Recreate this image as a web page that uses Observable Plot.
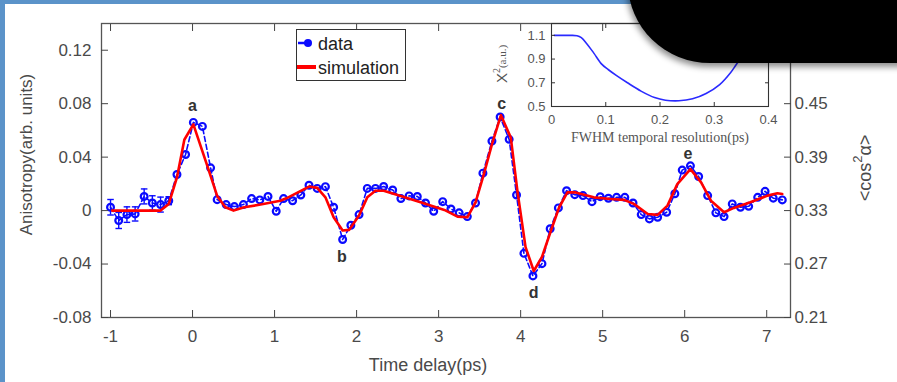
<!DOCTYPE html>
<html><head><meta charset="utf-8">
<script src="https://cdn.jsdelivr.net/npm/d3@7"></script>
<script src="https://cdn.jsdelivr.net/npm/@observablehq/plot@0.6"></script>
<style>
html,body{margin:0;padding:0;background:#fff;}
#wrap{position:relative;width:897px;height:382px;overflow:hidden;background:#fff;}
#wrap svg{position:absolute;overflow:visible;}
.bl{position:absolute;left:0;top:0;width:5px;height:382px;background:#5b93c9;}
.bt{position:absolute;left:0;top:0;width:897px;height:4px;background:#5b93c9;}
.blk{position:absolute;left:628px;top:-20px;width:300px;height:83px;background:#000;border-bottom-left-radius:82px 80px;box-shadow:0 2px 6px 2px rgba(0,0,0,0.45);}
</style></head><body><div id="wrap"><div class="bl"></div><div class="bt"></div></div>
<script>
// main data (time delay in ps, anisotropy)
const times = [-1.00,-0.90,-0.80,-0.70,-0.59,-0.49,-0.39,-0.29,-0.19,-0.085,
  0.01,0.12,0.22,0.30,0.41,0.51,0.62,0.72,0.82,0.92,
  1.02,1.11,1.22,1.32,1.42,1.52,1.62,1.72,1.83,1.93,
  2.03,2.13,2.23,2.33,2.44,2.54,2.64,2.74,2.84,2.94,
  3.05,3.15,3.25,3.35,3.45,3.54,3.65,3.75,3.86,3.95,
  4.04,4.15,4.26,4.36,4.46,4.56,4.66,4.76,4.87,4.97,
  5.07,5.17,5.27,5.37,5.47,5.57,5.67,5.78,5.88,5.97,
  6.07,6.17,6.28,6.38,6.48,6.58,6.68,6.78,6.89,6.98,
  7.08,7.19];
const anisotropy = [0.0025,-0.0074,-0.003,-0.0025,0.0106,0.0057,0.0045,0.0074,0.027,0.042,
  0.066,0.063,0.032,0.0082,0.0045,0.003,0.0045,0.009,0.008,0.0106,
  -0.0005,0.009,0.0074,0.0117,0.019,0.0166,0.0179,0.0025,-0.0216,-0.011,
  -0.003,0.0166,0.0166,0.018,0.0154,0.009,0.011,0.0106,0.0057,-0.0005,
  0.0067,0.0012,-0.0017,-0.0045,0.0057,0.028,0.052,0.070,0.0533,0.0117,
  -0.032,-0.0489,-0.0397,-0.0136,0.002,0.0149,0.0119,0.0112,0.0067,0.0104,
  0.0092,0.0099,0.0099,0.0057,-0.003,-0.0062,-0.005,-0.0012,0.0126,0.0303,
  0.0335,0.0255,0.0112,-0.0017,-0.0045,0.005,0.0025,0.0032,0.0099,0.0144,
  0.0093,0.008];
// error bars for the first points
const errors = [0.0058,0.006,0.0058,0.0053,0.0056,0.0054,0.0056,0.003];
// simulation
const simTimes = [-0.98,-0.39,-0.29,-0.19,-0.1,0.01,0.18,0.30,0.40,0.50,
  0.63,0.83,1.07,1.15,1.42,1.52,1.62,1.72,1.83,1.91,
  2.03,2.13,2.23,2.33,2.46,2.78,3.07,3.23,3.35,3.45,
  3.55,3.65,3.76,3.88,3.96,4.06,4.16,4.26,4.37,4.47,
  4.57,4.67,4.89,5.10,5.26,5.38,5.55,5.67,5.79,5.91,
  6.07,6.2,6.32,6.48,6.6,6.8,7.01,7.13,7.19];
const simValues = [0,0,0.005,0.0248,0.053,0.0645,0.0335,0.011,0.0025,0,
  0.0025,0.0045,0.0074,0.0094,0.018,0.017,0.0099,-0.005,-0.0149,-0.0144,
  -0.0037,0.0099,0.0149,0.0149,0.0124,0.0062,0.0005,-0.0045,-0.005,0.0062,
  0.027,0.0496,0.0714,0.0546,0.0149,-0.0273,-0.0452,-0.0347,-0.0149,0.0025,
  0.0136,0.0136,0.0099,0.0087,0.008,0.005,-0.0025,-0.0032,0.0037,0.0198,
  0.031,0.0211,0.0074,-0.0012,0.002,0.0062,0.0112,0.013,0.0124];
// peak labels
const peakLabels = ["a","b","c","d","e"];
const peakX = [0, 1.82, 3.77, 4.16, 6.04];
const peakY = [0.078, -0.035, 0.080, -0.0618, 0.0424];
// ticks
const xTicks = [-1,0,1,2,3,4,5,6,7];
const yTicks = [-0.08,-0.04,0,0.04,0.08,0.12];
// inset: chi^2 vs FWHM temporal resolution
const fwhm = [0.005,0.02,0.035,0.047,0.055,0.065,0.078,0.093,0.105,0.12,0.14,0.165,0.19,0.21,0.235,0.26,0.285,0.31,0.33,0.34,0.36,0.38,0.395];
const chi2 = [1.1,1.1,1.1,1.097,1.08,1.03,0.95,0.855,0.81,0.76,0.70,0.63,0.575,0.553,0.548,0.565,0.61,0.685,0.785,0.85,0.98,1.12,1.2];
const insetXTicks = [0,0.1,0.2,0.3,0.4];
const insetYTicks = [0.5,0.7,0.9,1.1];

const BLUE = "#0a0aff", RED = "#ff0000", INK = "#4a4a4a";
const data = times.map((t,i)=>({t, a: anisotropy[i], e: errors[i] ?? 0}));
const errs = data.filter(d=>d.e>0);
const sim = simTimes.map((t,i)=>({t, v: simValues[i]}));
const peaks = peakLabels.map((s,i)=>({s, x: peakX[i], y: peakY[i]}));
const cap = 0.04;
const fmtY = d => d===0 ? "0" : d.toFixed(2);

const main = Plot.plot({
  width: 897, height: 382,
  marginLeft: 101, marginRight: 107, marginTop: 23, marginBottom: 65,
  x: {domain: [-1.11, 7.29]},
  y: {domain: [-0.08, 0.14]},
  style: {fontFamily: "'Liberation Sans', Arial, sans-serif", fontSize: "17px", color: INK, background: "transparent"},
  marks: [
    Plot.ruleX(errs, {x: "t", y1: d=>d.a-d.e, y2: d=>d.a+d.e, stroke: BLUE, strokeWidth: 1.4}),
    Plot.link(errs, {x1: d=>d.t-cap, x2: d=>d.t+cap, y1: d=>d.a+d.e, y2: d=>d.a+d.e, stroke: BLUE, strokeWidth: 1.4}),
    Plot.link(errs, {x1: d=>d.t-cap, x2: d=>d.t+cap, y1: d=>d.a-d.e, y2: d=>d.a-d.e, stroke: BLUE, strokeWidth: 1.4}),
    Plot.line(data, {x: "t", y: "a", stroke: BLUE, strokeWidth: 1.6, strokeDasharray: "5,3"}),
    Plot.dot(data, {x: "t", y: "a", r: 3.4, stroke: BLUE, strokeWidth: 2.2, fill: "none"}),
    Plot.line(sim, {x: "t", y: "v", stroke: RED, strokeWidth: 2.6}),
    Plot.text(peaks, {x: "x", y: "y", text: "s", fontWeight: "bold", fontSize: 16, fill: "#333"}),
    Plot.frame({stroke: "#555", strokeWidth: 1.3}),
    Plot.axisX({ticks: xTicks, tickSize: -7, tickPadding: 19, tickFormat: d => String(d), label: null, stroke: "#444", fontSize: 17}),
    Plot.axisX({anchor: "top", ticks: xTicks, tickSize: -7, tickFormat: () => "", label: null, stroke: "#444"}),
    Plot.axisY({ticks: yTicks, tickSize: -7, tickPadding: 17, tickFormat: fmtY, label: null, stroke: "#444", fontSize: 17}),
    Plot.axisY({anchor: "right", ticks: yTicks, tickSize: -7, tickPadding: 11, tickFormat: d => (0.33 + 1.5*d).toFixed(2), label: null, stroke: "#444", fontSize: 17}),
    Plot.text(["Anisotropy(arb. units)"], {frameAnchor: "left", textAnchor: "middle", lineAnchor: "middle", dx: -75, dy: -16, rotate: -90, fontSize: 17, fill: INK}),
    Plot.text(["Time delay(ps)"], {frameAnchor: "bottom", textAnchor: "middle", lineAnchor: "middle", dx: -18, dy: 48, fontSize: 18, fill: INK})
  ]
});
main.style.left = "0px"; main.style.top = "0px";
document.getElementById("wrap").appendChild(main);

// right axis title with superscript
const ms = d3.select(main);
const rt = ms.append("text").attr("transform", "translate(866,168) rotate(-90)")
  .attr("text-anchor", "middle").attr("dominant-baseline", "middle")
  .attr("fill", INK).style("font-family", "'Liberation Sans', Arial, sans-serif").style("font-size", "18px");
rt.append("tspan").text("<cos");
rt.append("tspan").attr("dy", -7).style("font-size", "13px").text("2");
rt.append("tspan").attr("dy", 7).text("α>");

// inset
const inset = Plot.plot({
  width: 300, height: 140,
  marginLeft: 71, marginRight: 12, marginTop: 8, marginBottom: 49,
  x: {domain: [0, 0.4]},
  y: {domain: [0.5, 1.2]},
  style: {fontFamily: "'Liberation Sans', Arial, sans-serif", fontSize: "13px", color: "#555", background: "transparent"},
  marks: [
    Plot.frame({stroke: "#333", strokeWidth: 1.1}),
    Plot.line(fwhm.map((f,i)=>({f, c: chi2[i]})), {x: "f", y: "c", stroke: "#2a2aff", strokeWidth: 1.6, curve: "catmull-rom"}),
    Plot.axisX({ticks: insetXTicks, tickSize: -4, tickPadding: 12, tickFormat: d => String(d), label: null, stroke: "#333", fontSize: 13}),
    Plot.axisX({anchor: "top", ticks: insetXTicks, tickSize: -4, tickFormat: () => "", label: null, stroke: "#333"}),
    Plot.axisY({ticks: insetYTicks, tickSize: -4, tickPadding: 10, tickFormat: d => d.toFixed(1), label: null, stroke: "#333", fontSize: 13}),
    Plot.axisY({anchor: "right", ticks: insetYTicks, tickSize: -4, tickFormat: () => "", label: null, stroke: "#333"}),
    Plot.text(["FWHM temporal resolution(ps)"], {frameAnchor: "bottom", textAnchor: "middle", lineAnchor: "middle", dy: 31, fontSize: 14, fontFamily: "'Liberation Serif', 'Times New Roman', serif", fill: "#555"})
  ]
});
inset.style.left = "480px"; inset.style.top = "15px";
document.getElementById("wrap").appendChild(inset);
const it = d3.select(inset).append("text").attr("transform", "translate(23,49) rotate(-90)")
  .attr("text-anchor", "middle").attr("dominant-baseline", "middle").attr("fill", "#555");
it.append("tspan").style("font-family", "'Liberation Sans', Arial, sans-serif").style("font-size", "15px").text("X");
it.append("tspan").attr("dy", -5).style("font-family", "'Liberation Serif', serif").style("font-size", "10px").text("2");
it.append("tspan").attr("dy", 5).style("font-family", "'Liberation Serif', serif").style("font-size", "11px").text("(a.u.)");

// legend
const leg = d3.select("#wrap").append("svg").attr("width", 110).attr("height", 52)
  .style("left", "296px").style("top", "29px");
leg.append("rect").attr("x", 0.5).attr("y", 0.5).attr("width", 109).attr("height", 51).attr("fill", "#fff").attr("stroke", "#333");
leg.append("line").attr("x1", 2).attr("x2", 12).attr("y1", 14).attr("y2", 14).attr("stroke", BLUE).attr("stroke-width", 2.5);
leg.append("circle").attr("cx", 12).attr("cy", 14).attr("r", 4).attr("fill", BLUE);
leg.append("line").attr("x1", 1).attr("x2", 20).attr("y1", 38).attr("y2", 38).attr("stroke", RED).attr("stroke-width", 4);
leg.append("text").attr("x", 22).attr("y", 21).text("data").attr("fill", "#222").style("font-family", "'Liberation Sans', Arial, sans-serif").style("font-size", "18px");
leg.append("text").attr("x", 22).attr("y", 45).text("simulation").attr("fill", "#222").style("font-family", "'Liberation Sans', Arial, sans-serif").style("font-size", "18px");

// black corner overlay from the screenshot
const blk = document.createElement("div"); blk.className = "blk";
document.getElementById("wrap").appendChild(blk);
</script>
</body></html>
